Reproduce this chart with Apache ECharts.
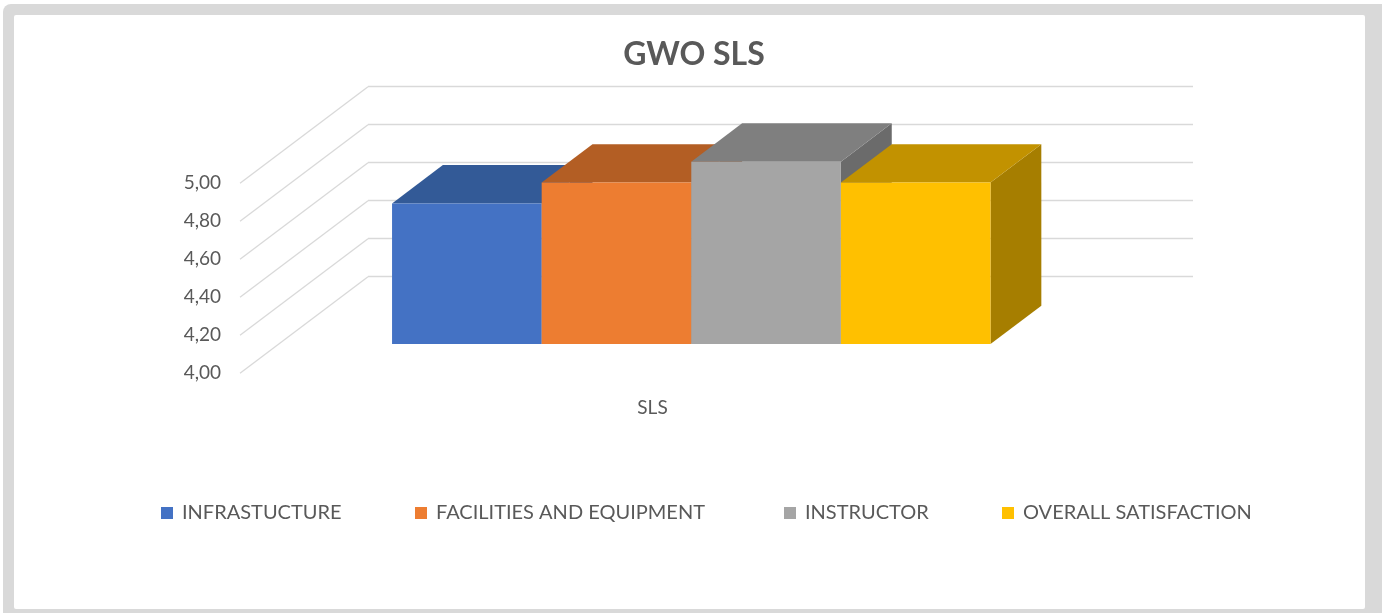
<!DOCTYPE html>
<html>
<head>
<meta charset="utf-8">
<script src="https://cdn.jsdelivr.net/npm/echarts@6/dist/echarts.min.js"></script>
<style>
html,body{margin:0;padding:0;background:#fff;}
#chart{width:1382px;height:613px;}
</style>
</head>
<body>
<div id="chart"></div>
<script>
// ---- data ----
const categories = ['SLS'];
const seriesNames = ['INFRASTUCTURE', 'FACILITIES AND EQUIPMENT', 'INSTRUCTOR', 'OVERALL SATISFACTION'];
const seriesValues = [4.74, 4.85, 4.96, 4.85];
const yTicks = [4.0, 4.2, 4.4, 4.6, 4.8, 5.0];
const yMin = 4.0, yMax = 5.0, yStep = 0.2;

// ---- styles ----
const frontColors = ['#4472C4', '#ED7D31', '#A5A5A5', '#FFC000'];
const topColors   = ['#335A97', '#B35E24', '#7F7F7F', '#C29200'];
const sideColors  = ['#2A4B80', '#9E521F', '#6B6B6B', '#A67E00'];
const textColor = '#595959';
const gridColor = '#D9D9D9';
const FONT = 'Lato, "Open Sans", sans-serif';

// 3D projection geometry (oblique)
const WALL_DX = 128, WALL_DY = 96.6;        // front -> back wall
const BAR_FRONT = 0.303;                     // bar front plane (fraction of depth)
const BAR_DEPTH = 0.397;                     // bar depth (fraction of depth)
const GAP = 1.514;                           // gap width relative to bar width
const FRONT = {left: 240, top: 183.3, width: 825, height: 190};

const grids = [
  {left: FRONT.left, top: FRONT.top, width: FRONT.width, height: FRONT.height},
  {left: FRONT.left + WALL_DX, top: FRONT.top - WALL_DY, width: FRONT.width, height: FRONT.height},
  {left: FRONT.left + WALL_DX * BAR_FRONT, top: FRONT.top - WALL_DY * BAR_FRONT, width: FRONT.width, height: FRONT.height}
];

const fmt = v => v.toFixed(2).replace('.', ',');

const chart = echarts.init(document.getElementById('chart'), null, {renderer: 'canvas'});

const barSeries = seriesNames.map((name, i) => ({
  name: name,
  type: 'custom',
  xAxisIndex: 2, yAxisIndex: 2,
  itemStyle: {color: frontColors[i]},
  z: 3 + i,
  data: [[categories[0], seriesValues[i]]],
  renderItem: function (params, api) {
    const n = seriesNames.length;
    const base = api.coord([api.value(0), yMin]);
    const top = api.coord([api.value(0), api.value(1)]);
    const bandW = api.size([1, 0])[0];
    const bw = bandW / (n + GAP);
    const x0 = base[0] - n * bw / 2 + i * bw;
    const x1 = x0 + bw;
    const yb = base[1], yt = top[1];
    const dx = WALL_DX * BAR_DEPTH, dy = WALL_DY * BAR_DEPTH;
    return {
      type: 'group',
      children: [
        {type: 'polygon', shape: {points: [[x1, yt], [x1 + dx, yt - dy], [x1 + dx, yb - dy], [x1, yb]]},
         style: {fill: sideColors[i]}},
        {type: 'polygon', shape: {points: [[x0, yt], [x1, yt], [x1 + dx, yt - dy], [x0 + dx, yt - dy]]},
         style: {fill: topColors[i]}},
        {type: 'rect', shape: {x: x0, y: yt, width: bw, height: yb - yt},
         style: {fill: frontColors[i]}}
      ]
    };
  }
}));

// left-wall diagonal gridlines
const wallSeries = {
  type: 'custom',
  xAxisIndex: 0, yAxisIndex: 0,
  silent: true,
  z: 1,
  data: yTicks.map(v => [categories[0], v]),
  renderItem: function (params, api) {
    const p = api.coord([api.value(0), api.value(1)]);
    const x0 = params.coordSys.x;
    return {
      type: 'line',
      shape: {x1: x0, y1: p[1], x2: x0 + WALL_DX, y2: p[1] - WALL_DY},
      style: {stroke: gridColor, lineWidth: 1.3}
    };
  }
};

const legendLefts = [161, 415, 784, 1002];

const option = {
  animation: false,
  backgroundColor: 'transparent',
  textStyle: {fontFamily: FONT},
  graphic: [
    {type: 'rect', z: -100, silent: true, shape: {x: 3, y: 4, width: 1420, height: 640, r: 8}, style: {fill: '#D9D9D9'}},
    {type: 'rect', z: -99, silent: true, shape: {x: 14, y: 15, width: 1351, height: 594, r: 2}, style: {fill: '#FFFFFF'}}
  ],
  title: {
    text: 'GWO SLS',
    left: 689, top: 34, textAlign: 'center',
    textStyle: {fontFamily: FONT, fontWeight: 'bold', fontSize: 32, color: textColor}
  },
  legend: seriesNames.map((name, i) => ({
    data: [name],
    left: legendLefts[i], top: 502,
    padding: 0,
    itemWidth: 12, itemHeight: 12, itemGap: 0,
    icon: 'rect',
    selectedMode: false,
    textStyle: {fontFamily: FONT, fontSize: 20, color: textColor, lineHeight: 22, padding: [0, 0, 0, 4]}
  })),
  grid: grids,
  xAxis: [
    {gridIndex: 0, type: 'category', data: categories,
     axisLine: {show: false}, axisTick: {show: false}, splitLine: {show: false},
     axisLabel: {show: true, margin: 25, color: textColor, fontSize: 19, fontFamily: FONT}},
    {gridIndex: 1, type: 'category', data: categories, show: false},
    {gridIndex: 2, type: 'category', data: categories, show: false}
  ],
  yAxis: [
    {gridIndex: 0, type: 'value', min: yMin, max: yMax, interval: yStep,
     axisLine: {show: false}, axisTick: {show: false}, splitLine: {show: false},
     axisLabel: {margin: 19, color: textColor, fontSize: 19, fontFamily: FONT, formatter: fmt}},
    {gridIndex: 1, type: 'value', min: yMin, max: yMax, interval: yStep,
     axisLine: {show: false}, axisTick: {show: false}, axisLabel: {show: false},
     splitLine: {show: true, lineStyle: {color: gridColor, width: 1.3}}},
    {gridIndex: 2, type: 'value', min: yMin, max: yMax, interval: yStep, show: false}
  ],
  series: [wallSeries].concat(barSeries)
};

chart.setOption(option);
</script>
</body>
</html>
